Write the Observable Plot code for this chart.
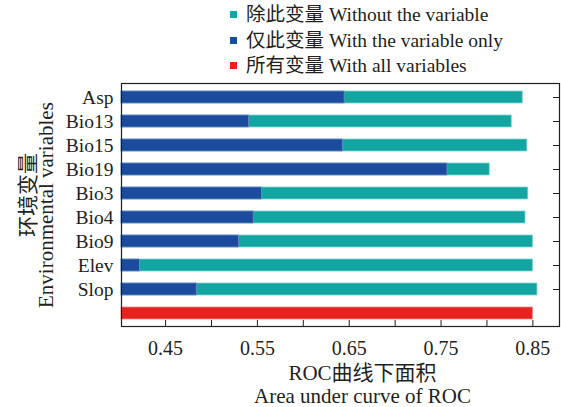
<!DOCTYPE html>
<html>
<head>
<meta charset="utf-8">
<script src="https://cdn.jsdelivr.net/npm/d3@7"></script>
<script src="https://cdn.jsdelivr.net/npm/@observablehq/plot@0.6"></script>
<style>
  html, body { margin: 0; padding: 0; background: #fff; }
  body { position: relative; width: 561px; height: 407px; overflow: hidden; font-family: "Liberation Serif", "Noto Sans CJK SC", serif; color: #231f20; }
  #legend { position: relative; height: 80px; width: 561px; }
  .row { position: absolute; left: 230px; height: 26px; line-height: 26px; font-size: 19.5px; white-space: nowrap; }
  .sw { display: inline-block; width: 7px; height: 7px; margin-right: 9px; vertical-align: middle; position: relative; top: -2px; }
  #chart svg { display: block; }
  .ytitle { position: absolute; left: 0; top: 0; font-size: 21px; line-height: 1; white-space: nowrap; transform-origin: 0 0; }
</style>
</head>
<body>
<div id="legend"></div>
<div id="chart"></div>
<script>
// ---- data ----
const variables = ["Asp", "Bio13", "Bio15", "Bio19", "Bio3", "Bio4", "Bio9", "Elev", "Slop"];
const withoutVar = [0.839, 0.827, 0.844, 0.803, 0.845, 0.842, 0.850, 0.850, 0.855];
const onlyVar    = [0.645, 0.541, 0.643, 0.757, 0.555, 0.546, 0.530, 0.422, 0.484];
const allVarsLabel = "All";
const allVarsValue = 0.850;
const xDomain = [0.402, 0.879];
const xTickLabels = [0.45, 0.55, 0.65, 0.75, 0.85];
const xTickMarks = [0.45, 0.50, 0.55, 0.60, 0.65, 0.70, 0.75, 0.80, 0.85];
const xTitleLines = ["ROC曲线下面积", "Area under curve of ROC"];
const yTitleLines = ["环境变量", "Environmental variables"];
const legendItems = [
  {label: "除此变量 Without the variable", color: "#13a5a2"},
  {label: "仅此变量 With the variable only", color: "#1c4a9d"},
  {label: "所有变量 With all variables", color: "#e7221e"}
];

// ---- legend ----
const legend = document.getElementById("legend");
legendItems.forEach((d, i) => {
  const row = document.createElement("div");
  row.className = "row";
  row.style.top = (2 + i * 25.5) + "px";
  const sw = document.createElement("span");
  sw.className = "sw";
  sw.style.background = d.color;
  row.appendChild(sw);
  row.appendChild(document.createTextNode(d.label));
  legend.appendChild(row);
});

// ---- chart ----
const rows = variables.map((v, i) => ({name: v, without: withoutVar[i], only: onlyVar[i]}));
const allRow = [{name: allVarsLabel, value: allVarsValue}];
const W = 561, H = 327, mL = 121, mR = 2, mT = 3, mB = 81;
const plotW = W - mL - mR, plotH = H - mT - mB;
const ink = "#231f20";
const font = "\"Liberation Serif\", \"Noto Sans CJK SC\", serif";

const chart = Plot.plot({
  width: W, height: H,
  marginLeft: mL, marginRight: mR, marginTop: mT, marginBottom: mB,
  style: {fontFamily: font, fontSize: "19.5px", color: ink, background: "white"},
  x: {domain: xDomain, axis: null},
  y: {domain: [...variables, allVarsLabel], paddingInner: 0.52, paddingOuter: 0.26, axis: null, label: null},
  marks: [
    Plot.barX(rows, {y: "name", x1: xDomain[0], x2: "without", fill: "#13a5a2", stroke: "#7fd3d1", strokeWidth: 0.8}),
    Plot.barX(rows, {y: "name", x1: xDomain[0], x2: "only", fill: "#1c4a9d", stroke: "#6f8fc8", strokeWidth: 0.8}),
    Plot.barX(allRow, {y: "name", x1: xDomain[0], x2: "value", fill: "#e7221e", stroke: "#f08a86", strokeWidth: 0.8}),
    Plot.frame({stroke: ink, strokeWidth: 1.2}),
    Plot.ruleX(xTickMarks, {x: d => d, insetTop: plotH - 6, stroke: ink, strokeWidth: 1}),
    Plot.ruleY(variables, {y: d => d, insetLeft: plotW - 6, stroke: ink, strokeWidth: 1}),
    Plot.axisY({anchor: "left", tickSize: 0, tickPadding: 8, fontSize: 19.5, label: null,
      tickFormat: d => d === allVarsLabel ? "" : d}),
    Plot.axisX(xTickLabels, {anchor: "bottom", tickSize: 0, tickPadding: 14, fontSize: 20, label: null,
      tickFormat: d3.format(".2f")}),
    Plot.text([xTitleLines[0]], {frameAnchor: "bottom", text: d => d, dx: 22, dy: 47, lineAnchor: "middle", fontSize: 21, fill: ink}),
    Plot.text([xTitleLines[1]], {frameAnchor: "bottom", text: d => d, dx: 22, dy: 70, lineAnchor: "middle", fontSize: 21, fill: ink})
  ]
});
document.getElementById("chart").appendChild(chart);

// ---- rotated y-axis title (two lines) ----
const yTitleCenters = [[28, 195], [46, 205]];
yTitleLines.forEach((t, i) => {
  const div = document.createElement("div");
  div.className = "ytitle";
  div.textContent = t;
  document.body.appendChild(div);
  const w = div.offsetWidth, h = div.offsetHeight;
  const [cx, cy] = yTitleCenters[i];
  div.style.transform = `translate(${cx - h / 2}px, ${cy + w / 2}px) rotate(-90deg)`;
});
</script>
</body>
</html>
